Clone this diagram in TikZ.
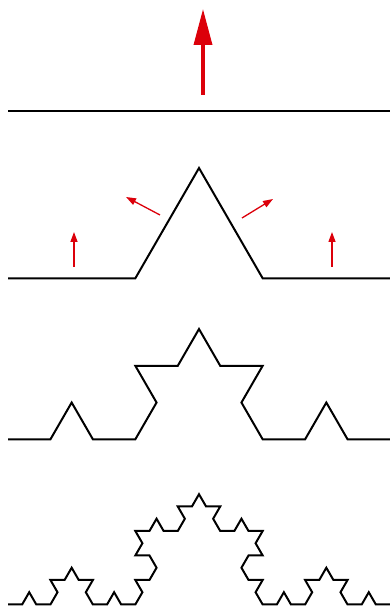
\documentclass[tikz,border=0pt]{standalone}
\usetikzlibrary{lindenmayersystems,arrows.meta}
\pgfdeclarelindenmayersystem{Koch}{\rule{F -> F+F--F+F}}
\definecolor{arrred}{RGB}{220,0,10}
\tikzset{
  curve/.style={line width=2pt, line join=miter, black},
  bigarrow/.style={arrred, line width=3.5pt, -{Triangle[width=18pt,length=36pt]}},
  smallarrow/.style={arrred, line width=1.3pt, -{Triangle[width=7pt,length=10pt]}},
}
\begin{document}
\begin{tikzpicture}[x=1pt,y=1pt]
\useasboundingbox (0,0) rectangle (390,607);
% level 0
\draw[curve] (8,495.5) coordinate (l0a) -- (390,495.5) coordinate (l0b);
\coordinate (ba) at (203,512);
\coordinate (bb) at (203,598);
\draw[bigarrow] (ba) -- (bb);
% level 1
\begin{scope}[shift={(8,328.7)}]
\draw[curve, l-system={Koch, axiom=F, order=1, step=127.333pt, angle=60}] (0,0) lindenmayer system;
\end{scope}
\coordinate (a1s) at (74,340); \coordinate (a1e) at (74,375);
\coordinate (a2s) at (160,392); \coordinate (a2e) at (126,410);
\coordinate (a3s) at (242,389); \coordinate (a3e) at (273,408);
\coordinate (a4s) at (332,340); \coordinate (a4e) at (332,375);
\draw[smallarrow] (a1s) -- (a1e);
\draw[smallarrow] (a2s) -- (a2e);
\draw[smallarrow] (a3s) -- (a3e);
\draw[smallarrow] (a4s) -- (a4e);
% level 2
\begin{scope}[shift={(8,167.7)}]
\draw[curve, l-system={Koch, axiom=F, order=2, step=42.444pt, angle=60}] (0,0) lindenmayer system;
\end{scope}
% level 3
\begin{scope}[shift={(8,2.5)}]
\draw[curve, l-system={Koch, axiom=F, order=3, step=14.148pt, angle=60}] (0,0) lindenmayer system;
\end{scope}
\end{tikzpicture}
\end{document}
